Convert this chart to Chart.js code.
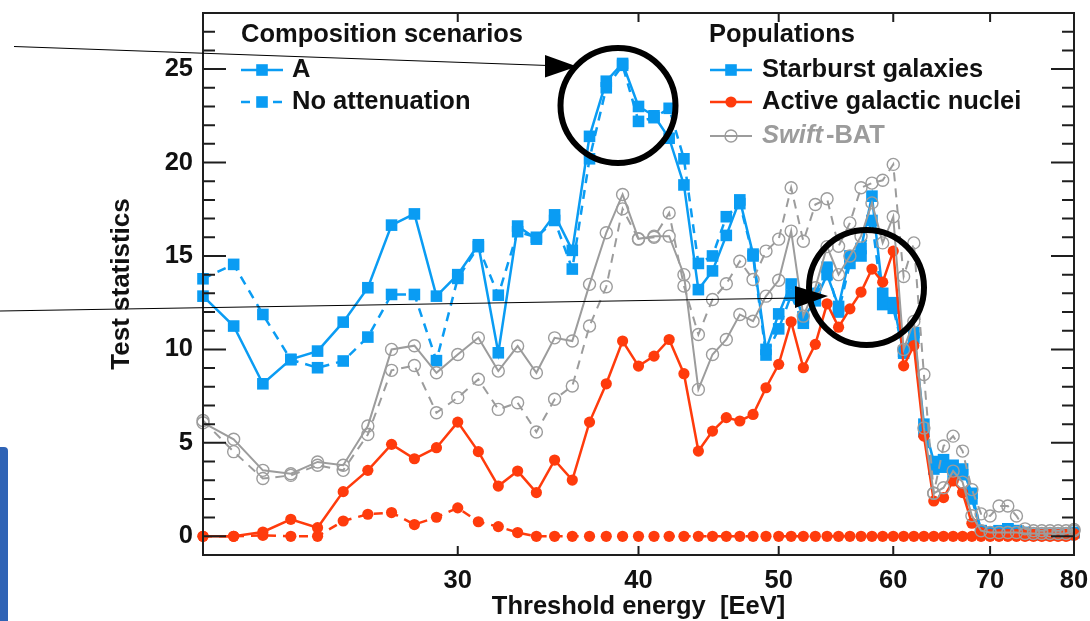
<!DOCTYPE html>
<html><head><meta charset="utf-8">
<script src="https://cdn.jsdelivr.net/npm/chart.js@4.4.1/dist/chart.umd.min.js"></script>
<style>html,body{margin:0;padding:0;background:#fff;}#wrap{width:1090px;height:621px;position:relative;}</style>
</head><body><div id="wrap"><canvas id="c" width="1090" height="621"></canvas></div>
<script>
// ---- data (threshold energy in EeV, test statistics) ----
const energies = [20,21,22,23,24,25,26,27,28,29,30,31,32,33,34,35,36,37,38,39,40,41,42,43,44,45,46,47,48,49,50,51,52,53,54,55,56,57,58,59,60,61,62,63,64,65,66,67,68,69,70,71,72,73,74,75,76,77,78,79,80];
const xTickValues = [30,40,50,60,70,80];
const yTickValues = [0,5,10,15,20,25];

const sbgA = [12.85,11.25,8.16,9.47,9.91,11.46,13.3,16.65,17.25,12.85,
  14.0,15.6,9.82,16.6,15.9,17.2,15.3,21.4,24.35,25.3,
  23.0,22.5,21.3,18.8,13.2,14.2,16.1,18.0,15.1,10.0,
  11.9,13.5,11.7,12.6,14.0,12.3,15.0,15.4,18.2,13.0,
  12.5,9.8,10.9,6.0,4.0,3.7,3.3,3.6,2.3,0.3,
  0.2,0.2,0.4,0.3,0.2,0.1,0.1,0.1,0.1,0.1,0.2];
const sbgNoAtt = [13.78,14.55,11.87,9.45,9.02,9.38,10.66,12.94,12.94,9.4,
  13.8,15.5,12.9,16.3,16.0,16.9,14.3,20.2,24.0,25.2,
  22.2,22.4,22.9,20.2,14.6,15.0,17.1,17.8,15.0,9.7,
  11.1,12.9,11.4,13.0,14.4,12.0,14.6,15.0,16.9,12.4,
  12.2,9.9,10.6,5.6,3.6,4.1,3.8,3.3,2.0,0.3,
  0.2,0.3,0.4,0.3,0.2,0.1,0.1,0.1,0.1,0.1,0.2];
const agnA = [0,0,0.23,0.91,0.46,2.39,3.53,4.92,4.15,4.74,
  6.11,4.53,2.69,3.49,2.34,4.08,3.01,6.11,8.16,10.45,
  9.11,9.64,10.53,8.7,4.56,5.63,6.35,6.17,6.52,7.95,
  9.2,11.48,9.02,10.27,12.44,11.19,12.17,13.07,14.3,13.6,
  15.26,9.12,10.2,5.36,1.89,2.07,2.96,2.34,0.7,0.2,
  0.1,0.1,0.1,0.1,0.1,0.1,0.1,0.1,0.1,0.1,0.15];
const agnNoAtt = [0,0,0.05,0,0,0.82,1.18,1.27,0.63,1.02,
  1.52,0.78,0.52,0.2,0,0,0,0,0,0,
  0,0,0,0,0,0,0,0,0,0,
  0,0,0,0,0,0,0,0,0,0,
  0,0,0,0,0,0,0,0,0,0,
  0,0,0,0,0,0,0,0,0,0,0.05];
const swiftA = [6.08,5.19,3.53,3.35,3.98,3.8,5.9,10.0,10.2,8.75,
  9.73,10.62,8.84,10.18,8.75,10.62,10.45,13.48,16.24,18.29,
  15.92,16.06,16.06,14.0,7.86,9.73,10.53,11.87,11.51,12.85,
  13.7,16.33,11.78,13.3,15.5,14.0,15.0,16.06,17.84,15.7,
  17.1,10.0,11.5,5.8,2.3,2.6,3.49,2.9,1.1,0.3,
  0.2,0.2,0.2,0.2,0.15,0.15,0.15,0.15,0.15,0.15,0.3];
const swiftNoAtt = [6.2,4.53,3.09,3.26,3.8,3.53,5.45,8.88,9.14,6.61,
  7.42,8.4,6.79,7.15,5.58,7.33,8.04,11.25,13.35,17.52,
  15.9,16.0,17.3,13.39,10.8,12.67,13.51,14.72,13.74,15.26,
  15.9,18.65,15.79,17.75,18.06,15.52,16.77,18.65,18.9,19.05,
  19.9,13.9,15.7,8.66,2.3,4.83,5.36,4.56,2.5,1.2,
  1.09,1.62,1.62,1.09,0.4,0.3,0.3,0.3,0.3,0.3,0.37];

const xTitle = 'Threshold energy  [EeV]';
const yTitle = 'Test statistics';
const scenarioTitle = 'Composition scenarios';
const scenarioLabels = ['A', 'No attenuation'];
const populationTitle = 'Populations';
const populationLabels = ['Starburst galaxies', 'Active galactic nuclei', 'Swift', '-BAT'];

// ---- styles ----
const BLUE = '#0a9cf3', RED = '#ff3b0c', GRAY = '#9c9c9c';
const FONT = '"Liberation Sans", Arial, Helvetica, sans-serif';
const TXT = 'bold 25.5px ' + FONT;
const DASH = [9, 7];

function pts(arr){ return energies.map((e,i)=>({x:e, y:arr[i]})); }

function blueDs(label, arr, dashed){ return {label, data:pts(arr), borderColor:BLUE, backgroundColor:BLUE,
  borderWidth:2.5, borderDash: dashed?DASH:[], pointStyle:'rect', pointRadius:8.2, pointBorderWidth:0,
  pointBackgroundColor:BLUE, pointBorderColor:BLUE, tension:0, clip:false}; }
function redDs(label, arr, dashed){ return {label, data:pts(arr), borderColor:RED, backgroundColor:RED,
  borderWidth:2.5, borderDash: dashed?DASH:[], pointStyle:'circle', pointRadius:5.6, pointBorderWidth:0,
  pointBackgroundColor:RED, pointBorderColor:RED, tension:0, clip:false}; }
function grayDs(label, arr, dashed){ return {label, data:pts(arr), borderColor:GRAY, backgroundColor:'rgba(0,0,0,0)',
  borderWidth:2, borderDash: dashed?DASH:[], pointStyle:'circle', pointRadius:6, pointBorderWidth:1.4,
  pointBackgroundColor:'rgba(0,0,0,0)', pointBorderColor:GRAY, tension:0, clip:false}; }

const datasets = [
  grayDs('Swift-BAT A', swiftA, false),
  grayDs('Swift-BAT no attenuation', swiftNoAtt, true),
  redDs('AGN A', agnA, false),
  redDs('AGN no attenuation', agnNoAtt, true),
  blueDs('SBG A', sbgA, false),
  blueDs('SBG no attenuation', sbgNoAtt, true)
];

function sample(ctx, x1, x2, yy, ds, dashed){
  ctx.save();
  ctx.strokeStyle = ds.borderColor; ctx.lineWidth = ds.borderWidth;
  ctx.setLineDash(dashed ? DASH : []);
  ctx.beginPath(); ctx.moveTo(x1, yy); ctx.lineTo(x2, yy); ctx.stroke();
  ctx.setLineDash([]);
  ctx.fillStyle = ds.pointBackgroundColor; ctx.strokeStyle = ds.pointBorderColor; ctx.lineWidth = ds.pointBorderWidth;
  Chart.helpers.drawPoint(ctx, {pointStyle: ds.pointStyle, radius: ds.pointRadius, borderWidth: ds.pointBorderWidth, rotation: 0}, (x1+x2)/2, yy);
  ctx.restore();
}

const decor = {
  id: 'decor',
  afterDraw(chart){
    const {ctx, chartArea:a, scales:{x, y}} = chart;
    ctx.save();
    // frame
    ctx.strokeStyle = '#1e1e1e'; ctx.lineWidth = 2;
    ctx.strokeRect(a.left, a.top, a.right - a.left, a.bottom - a.top);
    // y ticks (inward, both sides)
    for (let v = Math.ceil(y.min); v <= Math.floor(y.max); v++){
      const py = y.getPixelForValue(v);
      const len = (v % 5 === 0) ? 23 : 12;
      ctx.beginPath();
      ctx.moveTo(a.left, py); ctx.lineTo(a.left + len, py);
      ctx.moveTo(a.right, py); ctx.lineTo(a.right - len, py);
      ctx.stroke();
    }
    // x ticks (inward, bottom and top)
    xTickValues.forEach(v => {
      const px = x.getPixelForValue(v);
      ctx.beginPath();
      ctx.moveTo(px, a.bottom); ctx.lineTo(px, a.bottom - 9);
      ctx.moveTo(px, a.top); ctx.lineTo(px, a.top + 9);
      ctx.stroke();
    });
    // axis titles
    ctx.fillStyle = '#111';
    ctx.font = TXT;
    ctx.textAlign = 'center'; ctx.textBaseline = 'middle';
    ctx.fillText(xTitle, (a.left + a.right)/2, 607);
    ctx.save();
    ctx.translate(122, (a.top + a.bottom)/2);
    ctx.rotate(-Math.PI/2);
    ctx.font = 'bold 26px ' + FONT;
    ctx.fillText(yTitle, 0, 0);
    ctx.restore();

    // legend
    const ds = chart.data.datasets;
    ctx.textAlign = 'left';
    ctx.fillStyle = '#111';
    ctx.font = TXT;
    ctx.fillText(scenarioTitle, 241, 35);
    ctx.fillText(populationTitle, 709, 35);
    sample(ctx, 241, 283, 70, ds[4], false);
    sample(ctx, 241, 283, 102, ds[5], true);
    ctx.fillStyle = '#111';
    ctx.font = TXT;
    ctx.fillText(scenarioLabels[0], 292, 70);
    ctx.fillText(scenarioLabels[1], 292, 102);
    sample(ctx, 710, 752, 70, ds[4], false);
    sample(ctx, 710, 752, 102, ds[2], false);
    sample(ctx, 710, 752, 136, ds[0], false);
    ctx.fillStyle = '#111';
    ctx.font = TXT;
    ctx.fillText(populationLabels[0], 762, 70);
    ctx.fillText(populationLabels[1], 762, 102);
    ctx.fillStyle = GRAY;
    ctx.font = 'italic bold 25.5px ' + FONT;
    ctx.fillText(populationLabels[2], 762, 136);
    const w = ctx.measureText(populationLabels[2]).width;
    ctx.font = TXT;
    ctx.fillText(populationLabels[3], 762 + w + 3, 136);

    // presentation overlays: arrows, circles, side bar
    ctx.strokeStyle = '#000'; ctx.fillStyle = '#000'; ctx.lineWidth = 1.2;
    ctx.beginPath(); ctx.moveTo(14, 46.5); ctx.lineTo(548, 65.5); ctx.stroke();
    ctx.beginPath(); ctx.moveTo(577, 66.5); ctx.lineTo(545, 55); ctx.lineTo(545, 77.5); ctx.closePath(); ctx.fill();
    ctx.beginPath(); ctx.moveTo(0, 311); ctx.lineTo(798, 298); ctx.stroke();
    ctx.beginPath(); ctx.moveTo(828, 296); ctx.lineTo(795, 286); ctx.lineTo(795, 308); ctx.closePath(); ctx.fill();
    ctx.lineWidth = 6;
    ctx.beginPath(); ctx.arc(618, 105.5, 57.5, 0, Math.PI*2); ctx.stroke();
    ctx.beginPath(); ctx.arc(866.5, 287.5, 57.5, 0, Math.PI*2); ctx.stroke();
    ctx.fillStyle = '#2f63b5';
    ctx.beginPath(); ctx.moveTo(0, 447); ctx.lineTo(4, 447); ctx.quadraticCurveTo(8, 447, 8, 451);
    ctx.lineTo(8, 621); ctx.lineTo(0, 621); ctx.closePath(); ctx.fill();
    ctx.restore();
  }
};

const tickFont = {family: FONT, size: 25.5, weight: 'bold'};

new Chart(document.getElementById('c'), {
  type: 'line',
  data: { datasets },
  options: {
    responsive: false, animation: false, events: [], devicePixelRatio: 1,
    layout: { padding: {top: 13, right: 16, left: 0, bottom: 0} },
    plugins: { legend: {display: false}, tooltip: {enabled: false} },
    scales: {
      x: {
        type: 'logarithmic', min: 20, max: 80,
        grid: {display: false, drawTicks: false}, border: {display: false},
        afterBuildTicks: s => { s.ticks = xTickValues.map(v => ({value: v})); },
        afterFit: s => { s.height = 66; s.paddingLeft = 0; s.paddingRight = 0; },
        ticks: {autoSkip: false, maxRotation: 0, minRotation: 0, padding: 11, color: '#111', font: tickFont,
          callback: v => String(v)}
      },
      y: {
        type: 'linear', min: -1, max: 28,
        grid: {display: false, drawTicks: false}, border: {display: false},
        afterBuildTicks: s => { s.ticks = yTickValues.map(v => ({value: v})); },
        afterFit: s => { s.width = 203; s.paddingTop = 0; s.paddingBottom = 0; },
        ticks: {padding: 10, color: '#111', font: tickFont, callback: v => String(v)}
      }
    }
  },
  plugins: [decor]
});
</script>
</body></html>
